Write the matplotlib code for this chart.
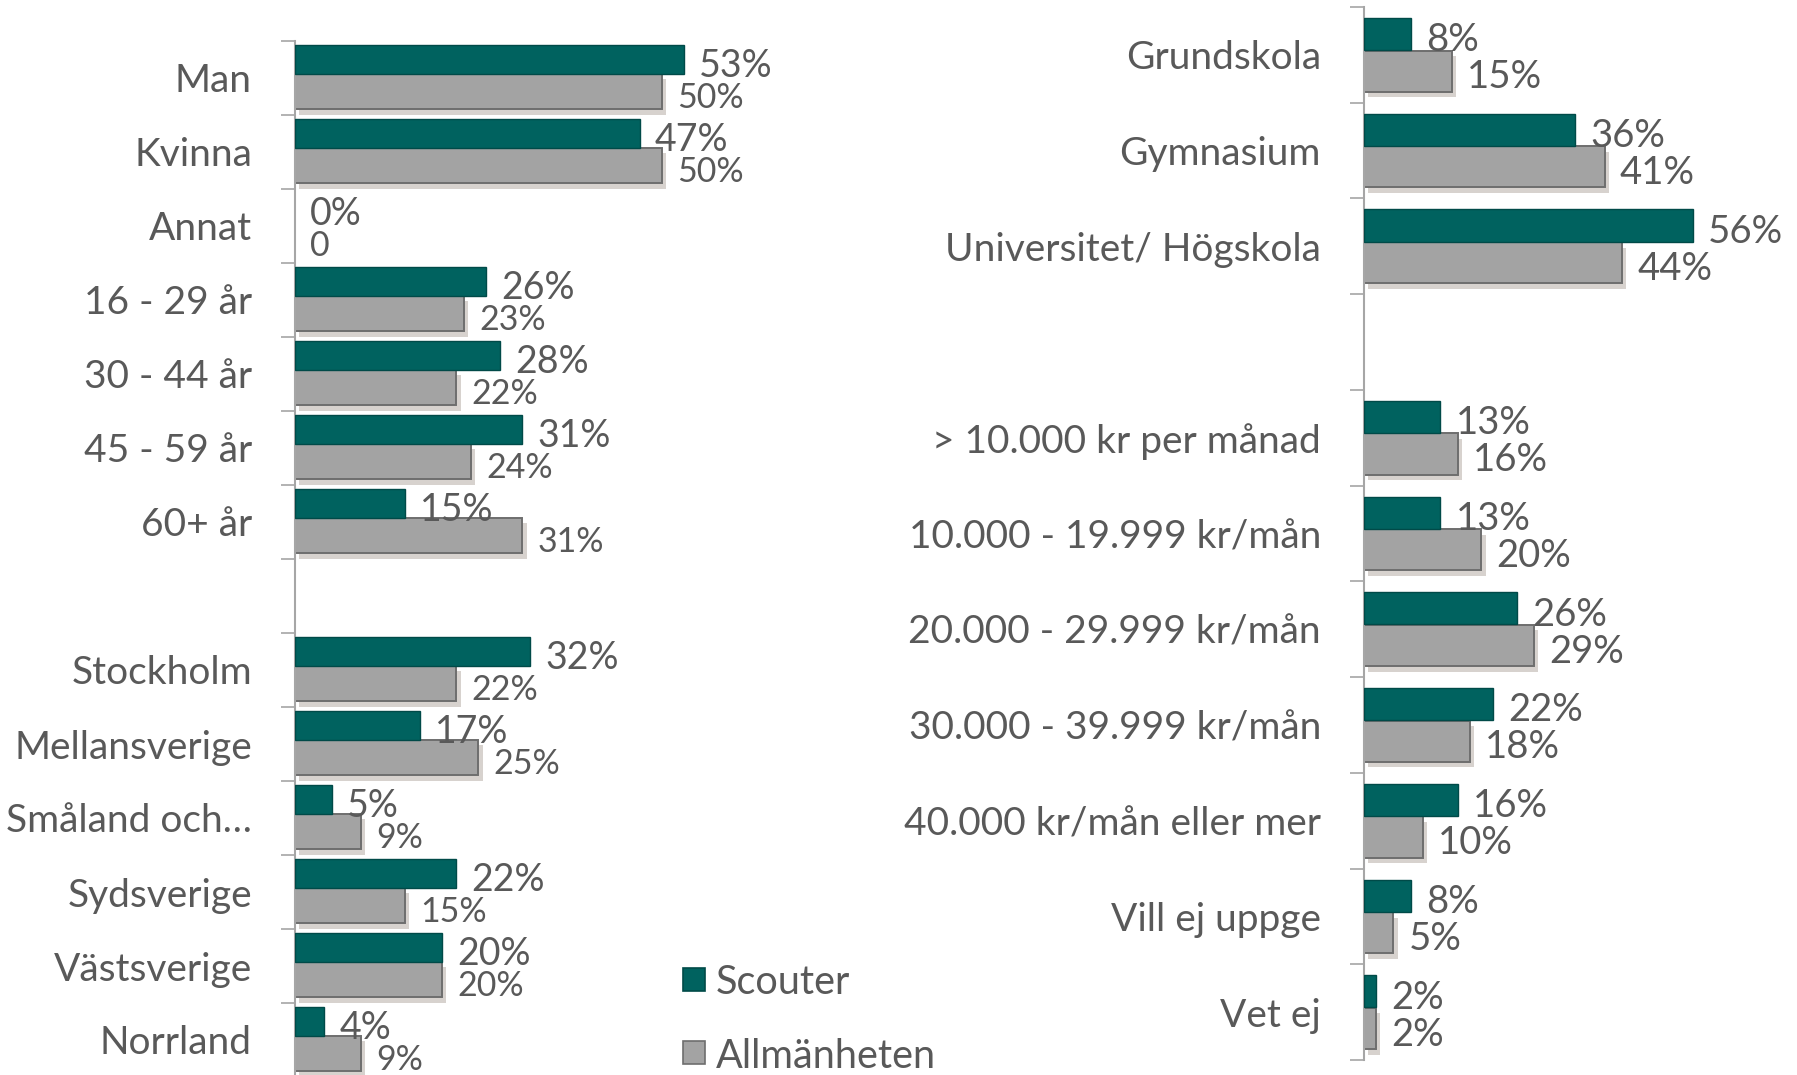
import matplotlib
matplotlib.use("Agg")
import matplotlib.pyplot as plt
import matplotlib.patheffects as pe
from matplotlib.patches import Rectangle

plt.rcParams['font.family'] = ['Lato', 'DejaVu Sans']

# left panel: gender, age, region
left_cats = ["Man", "Kvinna", "Annat", "16 - 29 år", "30 - 44 år", "45 - 59 år",
             "60+ år", "", "Stockholm", "Mellansverige", "Småland och…",
             "Sydsverige", "Västsverige", "Norrland"]
left_scout = [53, 47, 0, 26, 28, 31, 15, None, 32, 17, 5, 22, 20, 4]
left_allm = [50, 50, 0, 23, 22, 24, 31, None, 22, 25, 9, 15, 20, 9]
left_scout_lbl = ["53%", "47%", "0%", "26%", "28%", "31%", "15%", "",
                  "32%", "17%", "5%", "22%", "20%", "4%"]
left_allm_lbl = ["50%", "50%", "0", "23%", "22%", "24%", "31%", "",
                 "22%", "25%", "9%", "15%", "20%", "9%"]

# right panel: education, income
right_cats = ["Grundskola", "Gymnasium", "Universitet/ Högskola", "",
              "> 10.000 kr per månad", "10.000 - 19.999 kr/mån",
              "20.000 - 29.999 kr/mån", "30.000 - 39.999 kr/mån",
              "40.000 kr/mån eller mer", "Vill ej uppge", "Vet ej"]
right_scout = [8, 36, 56, None, 13, 13, 26, 22, 16, 8, 2]
right_allm = [15, 41, 44, None, 16, 20, 29, 18, 10, 5, 2]

series = ["Scouter", "Allmänheten"]

TEAL = "#00625f"
TEAL_EDGE = "#004a48"
GRAY = "#a3a3a3"
GRAY_EDGE = "#6e6e6e"
TXT = "#595959"
AX = "#a6a6a6"

W, H = 1797, 1075
fig = plt.figure(figsize=(W / 100, H / 100), dpi=100)

shadow = [pe.SimplePatchShadow(offset=(3, -4), shadow_rgbFace="#a89c94", alpha=0.45),
          pe.Normal()]


def panel(rect, cats, scout, allm, s_lbl, a_lbl, teal_pos, gray_pos,
          s_fs, a_fs, s_dy, a_dy):
    ax = fig.add_axes(rect)
    n = len(cats)
    for i in range(n):
        if scout[i] is None:
            continue
        ax.barh(i + teal_pos[0], scout[i], height=teal_pos[1], align='edge',
                color=TEAL, edgecolor=TEAL_EDGE,
                linewidth=1.0 if scout[i] else 0, zorder=3)
        ax.barh(i + gray_pos[0], allm[i], height=gray_pos[1], align='edge',
                color=GRAY, edgecolor=GRAY_EDGE,
                linewidth=1.4 if allm[i] else 0, zorder=2,
                path_effects=shadow if allm[i] else None)
        ax.annotate(s_lbl[i], (scout[i], i + teal_pos[0] + teal_pos[1] / 2),
                    xytext=(11, s_dy), textcoords='offset points', ha='left',
                    va='center', fontsize=s_fs, color=TXT, zorder=5)
        ax.annotate(a_lbl[i], (allm[i], i + gray_pos[0] + gray_pos[1] / 2),
                    xytext=(11, a_dy), textcoords='offset points', ha='left',
                    va='center', fontsize=a_fs, color=TXT, zorder=5)
    ax.set_xlim(0, 60)
    ax.set_ylim(n, 0)
    ax.set_yticks([i + 0.5 for i in range(n)])
    ax.set_yticklabels(cats, fontsize=28, color=TXT)
    ax.set_yticks(range(n + 1), minor=True)
    ax.tick_params(axis='y', which='major', length=0, pad=31)
    ax.tick_params(axis='y', which='minor', length=10, width=1.2, color=AX)
    ax.set_xticks([])
    for s in ['top', 'right', 'bottom']:
        ax.spines[s].set_visible(False)
    ax.spines['left'].set_color(AX)
    ax.spines['left'].set_linewidth(1.5)
    ax.patch.set_alpha(0)
    return ax


# left: x 295..735 (60% * 7.34 px), y 41..1077
panel([295 / W, (H - 1077) / H, 440 / W, 1036 / H], left_cats, left_scout,
      left_allm, left_scout_lbl, left_allm_lbl, (0.055, 0.385), (0.44, 0.48),
      27, 24.5, -5, -5)

right_scout_lbl = [f"{v}%" if v is not None else "" for v in right_scout]
right_allm_lbl = [f"{v}%" if v is not None else "" for v in right_allm]
panel([1364 / W, (H - 1060) / H, 352 / W, 1053 / H], right_cats, right_scout,
      right_allm, right_scout_lbl, right_allm_lbl, (0.115, 0.335), (0.455, 0.43),
      27.5, 27.5, -4.5, -4.5)

# legend
for name, fc, ec, yc in [(series[0], TEAL, TEAL_EDGE, 980),
                         (series[1], GRAY, GRAY_EDGE, 1053)]:
    fig.add_artist(Rectangle((683 / W, 1 - (yc + 11) / H), 22 / W, 23 / H,
                             transform=fig.transFigure, facecolor=fc,
                             edgecolor=ec, linewidth=1.2))
    fig.text(716 / W, 1 - (yc + 3) / H, name, fontsize=28.5, color=TXT,
             ha='left', va='center')

fig.savefig("out.png", dpi=100)
